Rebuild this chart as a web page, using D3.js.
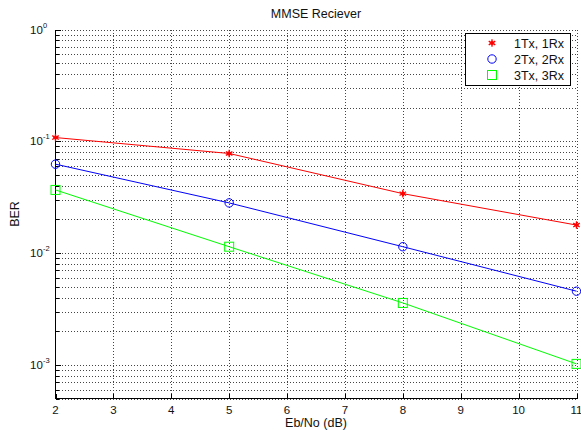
<!DOCTYPE html>
<html>
<head>
<meta charset="utf-8">
<script src="https://cdn.jsdelivr.net/npm/d3@7"></script>
<style>
  body { margin: 0; background: #fff; }
  text { font-family: "Liberation Sans", Arial, sans-serif; fill: #111; }
</style>
</head>
<body>
<svg id="chart" width="581" height="430"></svg>
<script>
// values
var ebno = [2, 5, 8, 11];
var ber1 = [0.108, 0.0778, 0.034, 0.0178];
var ber2 = [0.0624, 0.0281, 0.0114, 0.00456];
var ber3 = [0.0367, 0.0114, 0.00358, 0.00102];
var seriesNames = ["1Tx, 1Rx", "2Tx, 2Rx", "3Tx, 3Rx"];
var xTicks = [2, 3, 4, 5, 6, 7, 8, 9, 10, 11];
var yDecades = [1e-3, 1e-2, 1e-1, 1];
var yExps = ["-3", "-2", "-1", "0"];

var svg = d3.select("#chart");
// note: "top" is taken by window.top, so plot edges get their own names
var pL = 55.5, pR = 576.5, pT = 29.5, pB = 398.5;

var x = d3.scaleLinear().domain([2, 11]).range([pL, pR]);
var y = d3.scaleLog().domain([5e-4, 1]).range([pB, pT]);

// grid lines, MATLAB style dotted
var minor = [];
[1e-4, 1e-3, 1e-2, 1e-1].forEach(function (d) {
    for (var k = 2; k <= 9; k++) {
        var v = d * k;
        if (v >= 5e-4 && v < 1) minor.push(v);
    }
});
var grid = svg.append("g")
    .attr("stroke", "#444")
    .attr("stroke-width", 1)
    .attr("stroke-dasharray", "1,2")
    .attr("shape-rendering", "crispEdges");

grid.selectAll(".ym").data(minor.concat(yDecades)).enter().append("line")
    .attr("x1", pL).attr("x2", pR)
    .attr("y1", function (d) { return Math.round(y(d)) + 0.5; })
    .attr("y2", function (d) { return Math.round(y(d)) + 0.5; });

grid.selectAll(".xg").data(xTicks.slice(1)).enter().append("line")
    .attr("y1", pT).attr("y2", pB)
    .attr("x1", function (d) { return Math.round(x(d)) + 0.5; })
    .attr("x2", function (d) { return Math.round(x(d)) + 0.5; });

// axes lines
var ax = svg.append("g").attr("stroke", "#000").attr("shape-rendering", "crispEdges");
ax.append("line").attr("x1", pL).attr("x2", pL).attr("y1", pT).attr("y2", pB);
ax.append("line").attr("x1", pL).attr("x2", pR).attr("y1", pB).attr("y2", pB);

// ticks (inward)
ax.selectAll(".xt").data(xTicks).enter().append("line")
    .attr("x1", function (d) { return Math.round(x(d)) + 0.5; })
    .attr("x2", function (d) { return Math.round(x(d)) + 0.5; })
    .attr("y1", pB).attr("y2", pB - 5);
ax.selectAll(".yt").data(yDecades).enter().append("line")
    .attr("x1", pL).attr("x2", pL + 5)
    .attr("y1", function (d) { return Math.round(y(d)) + 0.5; })
    .attr("y2", function (d) { return Math.round(y(d)) + 0.5; });
ax.selectAll(".ymt").data(minor).enter().append("line")
    .attr("x1", pL).attr("x2", pL + 3)
    .attr("y1", function (d) { return Math.round(y(d)) + 0.5; })
    .attr("y2", function (d) { return Math.round(y(d)) + 0.5; });

// tick labels
svg.append("g").selectAll("text").data(xTicks).enter().append("text")
    .attr("x", function (d) { return x(d); })
    .attr("y", 414)
    .attr("text-anchor", "middle")
    .attr("font-size", 11.5)
    .text(function (d) { return d; });

var yl = svg.append("g").selectAll("g").data(yDecades).enter().append("g")
    .attr("transform", function (d) { return "translate(0," + y(d) + ")"; });
yl.append("text").attr("x", 30).attr("y", 4).attr("font-size", 11.5).text("10");
yl.append("text").attr("x", 43).attr("y", -2).attr("font-size", 7.5)
    .text(function (d, i) { return yExps[i]; });

// titles
svg.append("text").attr("x", 316).attr("y", 18).attr("text-anchor", "middle")
    .attr("font-size", 12.5).text("MMSE Reciever");
svg.append("text").attr("x", 316).attr("y", 427).attr("text-anchor", "middle")
    .attr("font-size", 12.5).text("Eb/No (dB)");
svg.append("text").attr("transform", "translate(19,214) rotate(-90)")
    .attr("text-anchor", "middle").attr("font-size", 12.5).text("BER");

// series
var series = [
    { vals: ber1, color: "#ff0000", sym: "star" },
    { vals: ber2, color: "#0000ff", sym: "circle" },
    { vals: ber3, color: "#00ff00", sym: "square" }
];
var line = d3.line().x(function (d) { return x(d[0]); }).y(function (d) { return y(d[1]); });

function drawMarker(g, sym, color) {
    if (sym == "star") {
        g.append("path").attr("d", d3.symbol(d3.symbolAsterisk, 40)())
            .attr("stroke", color).attr("stroke-width", 1.3).attr("fill", "none");
        g.append("path").attr("d", d3.symbol(d3.symbolCross, 12)())
            .attr("fill", color);
    } else if (sym == "circle") {
        g.append("circle").attr("r", 4.2).attr("fill", "none").attr("stroke", color);
    } else {
        g.append("rect").attr("x", -4.5).attr("y", -4.5).attr("width", 9).attr("height", 9)
            .attr("fill", "none").attr("stroke", color);
    }
}

series.forEach(function (s) {
    var pts = ebno.map(function (e, i) { return [e, s.vals[i]]; });
    svg.append("path").datum(pts).attr("d", line)
        .attr("fill", "none").attr("stroke", s.color).attr("stroke-width", 1);
    pts.forEach(function (p) {
        var g = svg.append("g").attr("transform", "translate(" + x(p[0]) + "," + y(p[1]) + ")");
        drawMarker(g, s.sym, s.color);
    });
});

// legend
var lg = svg.append("g");
lg.append("rect").attr("x", 465.5).attr("y", 33.5).attr("width", 105).attr("height", 52)
    .attr("fill", "#fff").attr("stroke", "#000").attr("shape-rendering", "crispEdges");
seriesNames.forEach(function (n, i) {
    var ly = 43 + i * 16;
    var g = lg.append("g").attr("transform", "translate(492," + ly + ")");
    drawMarker(g, series[i].sym, series[i].color);
    lg.append("text").attr("x", 514).attr("y", ly + 4.5).attr("font-size", 12.5).text(n);
});
</script>
</body>
</html>
